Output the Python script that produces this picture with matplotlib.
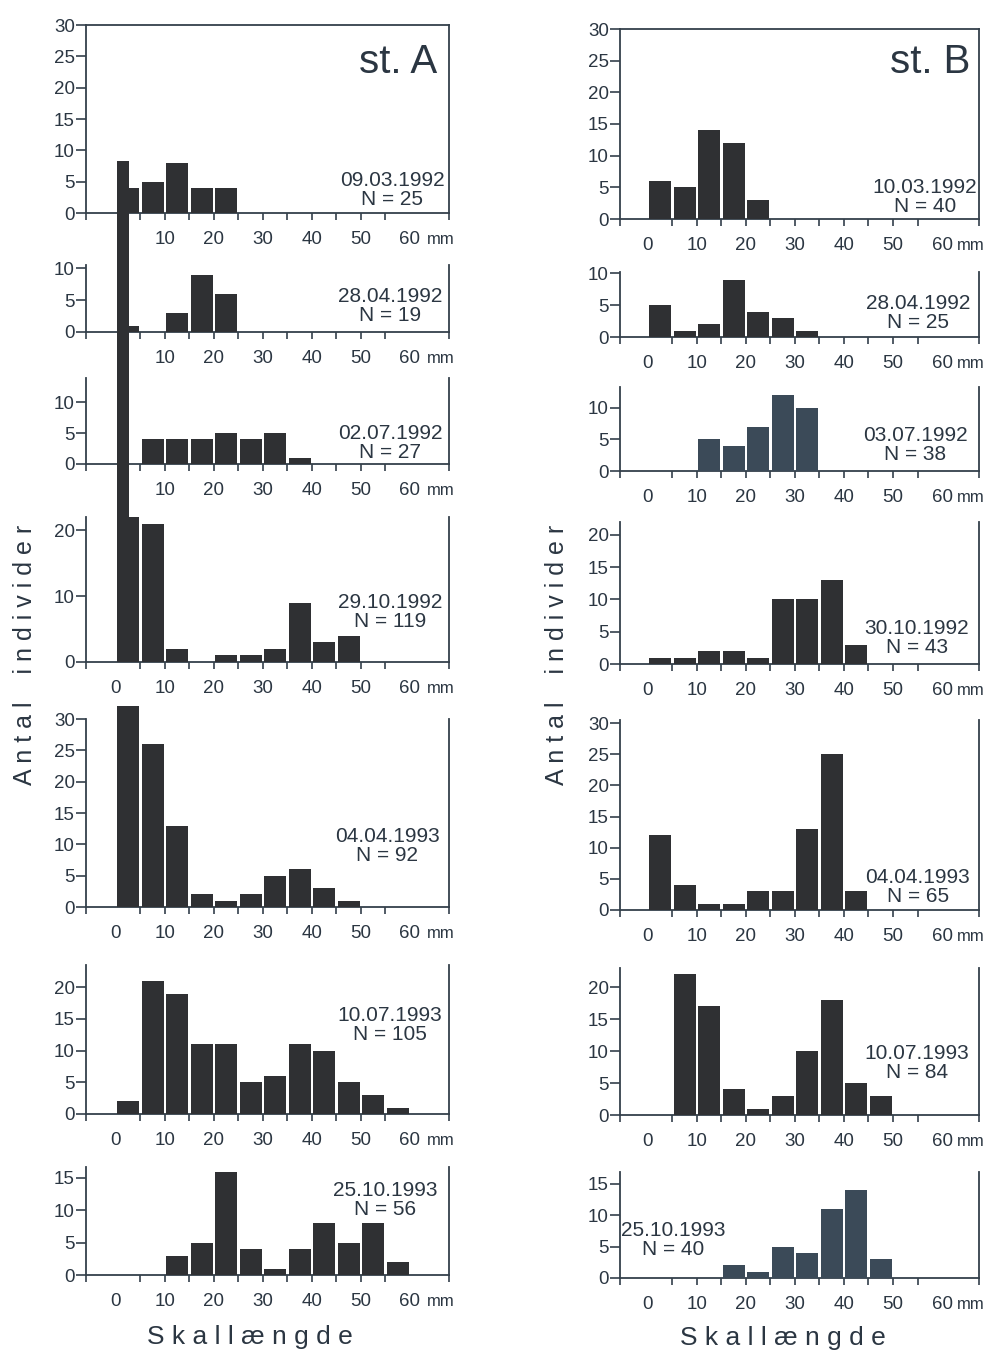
import numpy as np
import matplotlib
matplotlib.use("Agg")
import matplotlib.pyplot as plt
from matplotlib.ticker import FixedLocator, NullFormatter, FixedFormatter

plt.rcParams['font.family'] = ['Liberation Sans', 'DejaVu Sans']

# ---------------- data ----------------
size_classes = np.arange(0, 65, 5)          # lower limit of 5-mm shell-length classes
x_label_values = [0, 10, 20, 30, 40, 50, 60]

a_1992_03_09 = [4, 5, 8, 4, 4, 0, 0, 0, 0, 0, 0, 0, 0]
a_1992_04_28 = [1, 0, 3, 9, 6, 0, 0, 0, 0, 0, 0, 0, 0]
a_1992_07_02 = [0, 4, 4, 4, 5, 4, 5, 1, 0, 0, 0, 0, 0]
a_1992_10_29 = [76, 21, 2, 0, 1, 1, 2, 9, 3, 4, 0, 0, 0]
a_1993_04_04 = [32, 26, 13, 2, 1, 2, 5, 6, 3, 1, 0, 0, 0]
a_1993_07_10 = [2, 21, 19, 11, 11, 5, 6, 11, 10, 5, 3, 1, 0]
a_1993_10_25 = [0, 0, 3, 5, 16, 4, 1, 4, 8, 5, 8, 2, 0]

b_1992_03_10 = [6, 5, 14, 12, 3, 0, 0, 0, 0, 0, 0, 0, 0]
b_1992_04_28 = [5, 1, 2, 9, 4, 3, 1, 0, 0, 0, 0, 0, 0]
b_1992_07_03 = [0, 0, 5, 4, 7, 12, 10, 0, 0, 0, 0, 0, 0]
b_1992_10_30 = [1, 1, 2, 2, 1, 10, 10, 13, 3, 0, 0, 0, 0]
b_1993_04_04 = [12, 4, 1, 1, 3, 3, 13, 25, 3, 0, 0, 0, 0]
b_1993_07_10 = [0, 22, 17, 4, 1, 3, 10, 18, 5, 3, 0, 0, 0]
b_1993_10_25 = [0, 0, 0, 2, 1, 5, 4, 11, 14, 3, 0, 0, 0]

dates_a = ["09.03.1992", "28.04.1992", "02.07.1992", "29.10.1992",
           "04.04.1993", "10.07.1993", "25.10.1993"]
n_a = [25, 19, 27, 119, 92, 105, 56]
dates_b = ["10.03.1992", "28.04.1992", "03.07.1992", "30.10.1992",
           "04.04.1993", "10.07.1993", "25.10.1993"]
n_b = [40, 25, 38, 43, 65, 84, 40]

counts_a = [a_1992_03_09, a_1992_04_28, a_1992_07_02, a_1992_10_29,
            a_1993_04_04, a_1993_07_10, a_1993_10_25]
counts_b = [b_1992_03_10, b_1992_04_28, b_1992_07_03, b_1992_10_30,
            b_1993_04_04, b_1993_07_10, b_1993_10_25]

# ---------------- layout ----------------
W, H = 984, 1352
fig = plt.figure(figsize=(W / 100, H / 100), dpi=100)
fig.patch.set_facecolor("white")

TXT = "#2b3642"
SPINE = "#34404b"
BAR = "#2f3033"
BAR_BLUE = "#3b4a58"
TICK_FS = 13.5

cols = {
    "A": dict(x0=86, x1=449, xlim=(-6.12, 67.96)),
    "B": dict(x0=620, x1=979, xlim=(-5.71, 67.55)),
}
# (zero px, top px, y top value, y ticks, box, show 0 label, text center x, text center y, bar color)
panels_a = [
    (213, 25, 30, [0, 5, 10, 15, 20, 25, 30], True, False, 392, 190, BAR),
    (332, 265, 10.5, [0, 5, 10], False, False, 390, 306, BAR),
    (464, 378, 13.9, [0, 5, 10], False, False, 390, 443, BAR),
    (662, 517, 22, [0, 10, 20], False, True, 390, 612, BAR),
    (907, 719, 30, [0, 5, 10, 15, 20, 25, 30], False, True, 387, 846, BAR),
    (1114, 965, 23.5, [0, 5, 10, 15, 20], False, True, 390, 1025, BAR),
    (1275, 1167, 16.7, [0, 5, 10, 15], False, True, 385, 1200, BAR),
]
panels_b = [
    (219, 29, 30, [0, 5, 10, 15, 20, 25, 30], True, True, 925, 197, BAR),
    (337, 272, 10.2, [0, 5, 10], False, True, 918, 313, BAR),
    (471, 387, 13.3, [0, 5, 10], False, True, 915, 445, BAR_BLUE),
    (664, 522, 22, [0, 5, 10, 15, 20], False, True, 917, 638, BAR),
    (910, 720, 30.5, [0, 5, 10, 15, 20, 25, 30], False, True, 918, 887, BAR),
    (1115, 968, 23, [0, 5, 10, 15, 20], False, True, 917, 1063, BAR),
    (1278, 1172, 16.9, [0, 5, 10, 15], False, True, 673, 1240, BAR_BLUE),
]


def fx(x):
    return x / W


def fy(y):
    return 1 - y / H


def draw_panel(col, spec, counts, date, n, zorder):
    c = cols[col]
    y_zero, y_top, ytop, yticks, box, show0, tx, ty, color = spec
    ax = fig.add_axes([fx(c["x0"]), fy(y_zero), (c["x1"] - c["x0"]) / W,
                       (y_zero - y_top) / H])
    ax.set_zorder(zorder)
    ax.patch.set_alpha(0)
    xl0, xl1 = c["xlim"]
    ax.set_xlim(xl0, xl1)
    ax.set_ylim(0, ytop)

    counts = np.asarray(counts, dtype=float)
    over = counts > ytop * 1.5
    main = np.where(over, ytop, counts)
    keep = counts > 0
    ax.bar(size_classes[keep] + 2.5, main[keep], width=4.5, color=color,
           clip_on=False, zorder=3, linewidth=0)
    if over.any():
        ax.bar(size_classes[over] + 0.25, counts[over] - ytop, bottom=ytop,
               width=2.4, align="edge", color=color, clip_on=False,
               zorder=3, linewidth=0)

    for s in ["left", "bottom", "right", "top"]:
        ax.spines[s].set_color(SPINE)
        ax.spines[s].set_linewidth(1.3)
    ax.spines["top"].set_visible(box)

    ax.set_yticks(yticks)
    ax.set_yticklabels([str(v) for v in yticks])
    ax.tick_params(axis="y", direction="out", length=7, width=1.2, pad=1,
                   labelsize=TICK_FS, colors=SPINE, labelcolor=TXT)

    marks = [xl0] + list(range(5, 60, 5)) + [xl1]
    ax.xaxis.remove_overlapping_locs = False
    ax.xaxis.set_major_locator(FixedLocator(marks))
    ax.xaxis.set_major_formatter(NullFormatter())
    labs = x_label_values if show0 else x_label_values[1:]
    ax.xaxis.set_minor_locator(FixedLocator(labs))
    ax.xaxis.set_minor_formatter(FixedFormatter([str(v) for v in labs]))
    ax.tick_params(axis="x", which="major", direction="out", length=5,
                   width=1.2, colors=SPINE)
    ax.tick_params(axis="x", which="minor", length=0, pad=13,
                   labelsize=TICK_FS, labelcolor=TXT)
    ax.annotate("mm", xy=(1, 0), xycoords="axes fraction", xytext=(4, -14),
                textcoords="offset points", ha="right", va="top",
                fontsize=12, color=TXT)

    fig.text(fx(tx), fy(ty), f"{date}\nN = {n}", ha="center", va="center",
             multialignment="center", fontsize=15, linespacing=1.0,
             color=TXT)
    return ax


for i, spec in enumerate(panels_a):
    draw_panel("A", spec, counts_a[i], dates_a[i], n_a[i],
               zorder=10 if i == 3 else 1)
for i, spec in enumerate(panels_b):
    draw_panel("B", spec, counts_b[i], dates_b[i], n_b[i], zorder=1)

fig.text(fx(398), fy(62), "st. A", ha="center", va="center", fontsize=29,
         color=TXT)
fig.text(fx(930), fy(62), "st. B", ha="center", va="center", fontsize=29,
         color=TXT)

ylab = "A n t a l    i n d i v i d e r"
xlab = "S k a l l æ n g d e"
fig.text(fx(25), fy(655), ylab, rotation=90, ha="center", va="center",
         fontsize=18, color=TXT)
fig.text(fx(557), fy(655), ylab, rotation=90, ha="center", va="center",
         fontsize=18, color=TXT)
fig.text(fx(250), fy(1337), xlab, ha="center", va="center", fontsize=19,
         color=TXT)
fig.text(fx(783), fy(1338), xlab, ha="center", va="center", fontsize=19,
         color=TXT)

fig.savefig("out.png", dpi=100, facecolor="white")
